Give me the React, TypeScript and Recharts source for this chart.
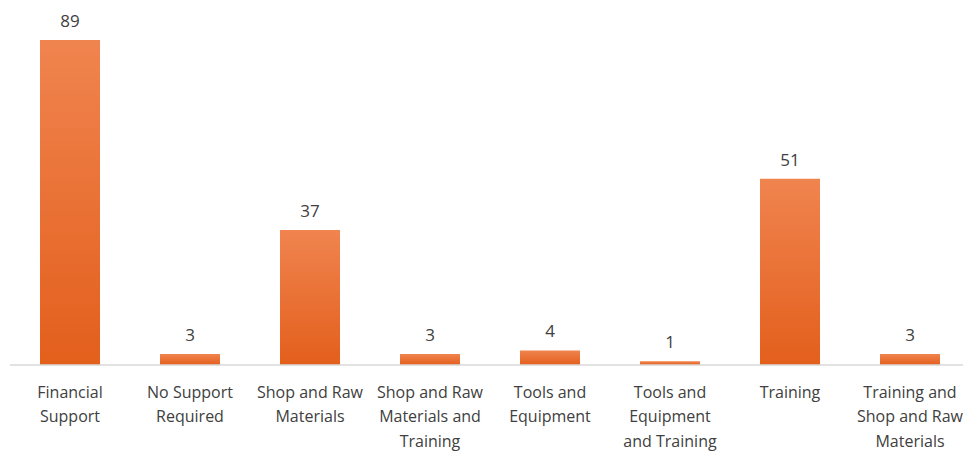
import { BarChart, Bar, XAxis, YAxis, LabelList } from "recharts";

const categories = [
  "Financial\nSupport",
  "No Support\nRequired",
  "Shop and Raw\nMaterials",
  "Shop and Raw\nMaterials and\nTraining",
  "Tools and\nEquipment",
  "Tools and\nEquipment\nand Training",
  "Training",
  "Training and\nShop and Raw\nMaterials",
];
const counts = [89, 3, 37, 3, 4, 1, 51, 3];

const data = categories.map((name, i) => ({ name, value: counts[i] }));

const FONT = "'Open Sans', sans-serif";
const INK = "#404040";

function WrappedTick({ x, y, payload }: any) {
  const lines = String(payload.value).split("\n");
  return (
    <text x={x} y={y} textAnchor="middle" fill={INK} fontSize={16} fontFamily={FONT}>
      {lines.map((l, i) => (
        <tspan key={i} x={x} dy={24.5}>
          {l}
        </tspan>
      ))}
    </text>
  );
}

export default function App() {
  return (
    <div
      style={{
        position: "absolute",
        left: 0,
        top: 0,
        width: 963,
        height: 452,
        overflow: "hidden",
        background: "#fff",
      }}
    >
      <BarChart
        width={980}
        height={452}
        data={data}
        margin={{ top: 40, right: 10, left: 10, bottom: 0 }}
      >
        <defs>
          <linearGradient id="barFill" x1="0" y1="0" x2="0" y2="1">
            <stop offset="0%" stopColor="#F0844F" />
            <stop offset="100%" stopColor="#E35F1C" />
          </linearGradient>
        </defs>
        <XAxis
          dataKey="name"
          height={87}
          interval={0}
          tickLine={false}
          axisLine={{ stroke: "#D9D9D9", strokeWidth: 1.5 }}
          tick={<WrappedTick />}
        />
        <YAxis hide domain={[0, 89]} />
        <Bar dataKey="value" fill="url(#barFill)" barSize={60} isAnimationActive={false}>
          <LabelList
            dataKey="value"
            position="top"
            offset={13}
            fill={INK}
            fontSize={17}
            fontFamily={FONT}
          />
        </Bar>
      </BarChart>
    </div>
  );
}
